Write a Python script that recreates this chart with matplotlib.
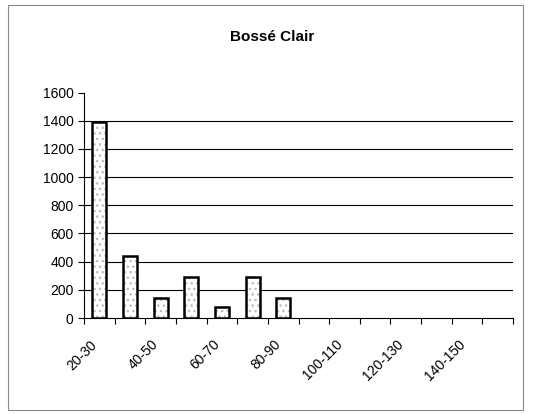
import matplotlib.pyplot as plt
import numpy as np

plt.rcParams['font.family'] = ['Liberation Sans', 'DejaVu Sans']

categories = ['20-30', '30-40', '40-50', '50-60', '60-70', '70-80', '80-90',
              '90-100', '100-110', '110-120', '120-130', '130-140', '140-150', '150-160']
counts = [1390, 440, 140, 290, 80, 290, 140, 0, 0, 0, 0, 0, 0, 0]
title = 'Bossé Clair'

fig = plt.figure(figsize=(5.33, 4.15), dpi=100)
ax = fig.add_axes([0.1576, 0.2337, 0.805, 0.5434])

x = np.arange(len(categories))
vals = np.array(counts)
# speckled fill: hatch takes the edge colour, so draw the outline separately
ax.bar(x, vals, width=0.46, color='white', edgecolor='#bdbdbd', linewidth=0,
       hatch='...', zorder=3)
ax.bar(x[vals > 0], vals[vals > 0], width=0.46, color='none', edgecolor='black',
       linewidth=1.8, zorder=4)

ax.set_xlim(-0.5, len(categories) - 0.5)
ax.set_ylim(0, 1600)
ax.set_yticks(range(0, 1601, 200))
for y in range(200, 1401, 200):
    ax.axhline(y, color='black', linewidth=0.8, zorder=1)

ax.set_xticks(np.arange(-0.5, len(categories)))
ax.set_xticklabels([])
ax.tick_params(axis='x', length=4, width=0.8, direction='out')
ax.set_xticks(x[::2] - 0.3, minor=True)
ax.set_xticklabels(categories[::2], minor=True, rotation=45, ha='right',
                   rotation_mode='anchor', fontsize=10)
ax.tick_params(axis='x', which='minor', length=0, pad=14)
ax.tick_params(axis='y', labelsize=10, length=4, width=0.8)

for s in ['top', 'right']:
    ax.spines[s].set_visible(False)
ax.spines['left'].set_linewidth(0.8)
ax.spines['bottom'].set_linewidth(0.8)

fig.text(0.51, 0.911, title, ha='center', va='center', fontsize=11, fontweight='bold')

border = plt.Rectangle((0.015, 0.012), 0.967, 0.976, transform=fig.transFigure,
                       fill=False, edgecolor='#888888', linewidth=0.8)
fig.patches.append(border)

fig.savefig('out.png', dpi=100)
